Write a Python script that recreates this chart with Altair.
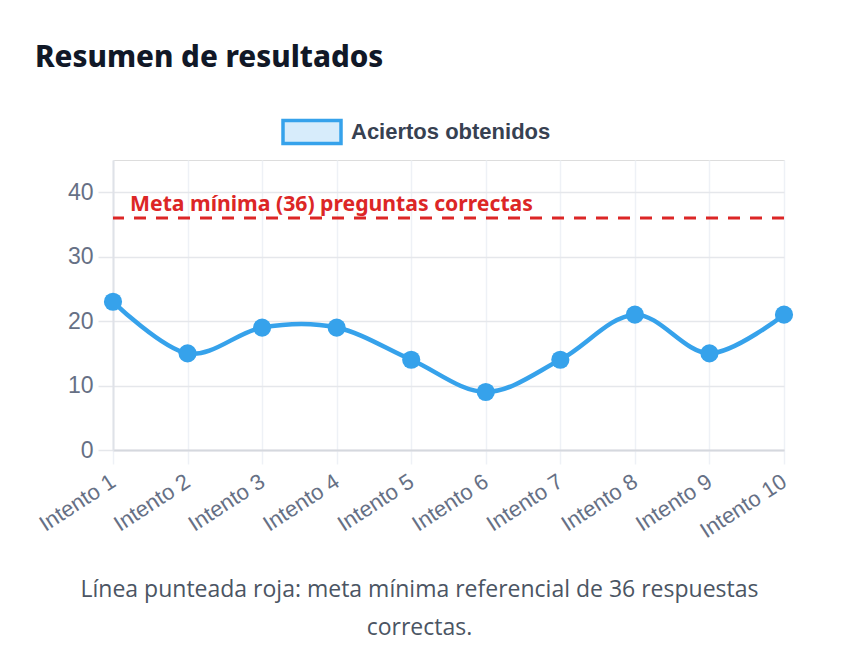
import altair as alt
import pandas as pd

intentos = ["Intento 1", "Intento 2", "Intento 3", "Intento 4", "Intento 5",
            "Intento 6", "Intento 7", "Intento 8", "Intento 9", "Intento 10"]
aciertos = [23, 15, 19, 19, 14, 9, 14, 21, 15, 21]
serie = "Aciertos obtenidos"
meta = 36
meta_label = "Meta mínima (36) preguntas correctas"
y_ticks = [0, 10, 20, 30, 40]
caption = ["Línea punteada roja: meta mínima referencial de 36 respuestas", "correctas."]

df = pd.DataFrame({"intento": intentos, "aciertos": aciertos, "serie": [serie] * len(intentos)})
meta_df = pd.DataFrame({"meta": [meta], "label": [meta_label], "intento": [intentos[0]]})

BLUE = "#36A2EB"
RED = "#DC2626"
LABEL_GRAY = "#667085"

x_enc = alt.X(
    "intento:N", sort=intentos,
    scale=alt.Scale(type="point", padding=0),
    axis=alt.Axis(
        title=caption, titleFont="Open Sans", titleFontSize=23, titleFontWeight="normal",
        titleColor="#4B5563", titleX=306, titleY=146, titleAlign="center",
        titleBaseline="alphabetic", titleLineHeight=38, titleAngle=0,
        labelAngle=-33, labelAlign="right", labelBaseline="middle",
        labelFont="Liberation Sans", labelFontSize=22, labelColor=LABEL_GRAY,
        labelPadding=15, labelOverlap=False,
        grid=True, gridColor="#EEF1F6", gridWidth=1.5,
        tickColor="#EEF1F6", tickSize=14, tickWidth=1.5,
        domainColor="#D5D8DE", domainWidth=2,
    ),
)
y_enc = alt.Y(
    "aciertos:Q",
    scale=alt.Scale(domain=[0, 45], nice=False),
    axis=alt.Axis(
        title=None, values=y_ticks,
        labelFont="Liberation Sans", labelFontSize=23, labelColor=LABEL_GRAY,
        labelPadding=5, grid=True, gridColor="#E5E7EB", gridWidth=1.5,
        tickColor="#E5E7EB", tickSize=15, tickWidth=1.5,
        domainColor="#DFE2E8", domainWidth=2,
    ),
)

line = alt.Chart(df).mark_line(
    interpolate="cardinal", tension=0, strokeWidth=4.5, strokeCap="round"
).encode(
    x=x_enc, y=y_enc,
    color=alt.Color(
        "serie:N", scale=alt.Scale(range=[BLUE]),
        legend=alt.Legend(
            title=None, orient="none", legendX=168, legendY=-59,
            symbolType="M-1,-0.4H1V0.4H-1Z", symbolSize=3364,
            symbolFillColor="#D7ECFB", symbolStrokeColor=BLUE, symbolStrokeWidth=3.5,
            labelFont="Liberation Sans", labelFontSize=22, labelFontWeight="bold",
            labelColor="#374151", labelOffset=8, labelLimit=400,
        ),
    ),
)

points = alt.Chart(df).mark_circle(size=330, color=BLUE, opacity=1).encode(
    x=alt.X("intento:N", sort=intentos), y="aciertos:Q"
)

rule = alt.Chart(meta_df).mark_rule(
    color=RED, strokeWidth=3, strokeDash=[12, 10]
).encode(y="meta:Q")

label = alt.Chart(meta_df).mark_text(
    align="left", baseline="alphabetic", dx=17, dy=-7,
    font="Noto Sans", fontSize=21.2, fontWeight="bold", color=RED
).encode(x=alt.X("intento:N", sort=intentos), y="meta:Q", text="label:N")

chart = alt.layer(rule, line, points, label).properties(
    width=671, height=290,
    title=alt.TitleParams(
        "Resumen de resultados", anchor="start", frame="group",
        font="Noto Sans", fontSize=29.5, fontWeight=800, color="#111827",
        dx=-78, dy=52, offset=80,
    ),
    autosize=alt.AutoSizeParams(type="none"),
    padding={"left": 113, "top": 160, "right": 59, "bottom": 202},
).configure_view(stroke=None).configure(background="white")

chart.save("out.html", embed_options={"renderer": "svg", "actions": False})
